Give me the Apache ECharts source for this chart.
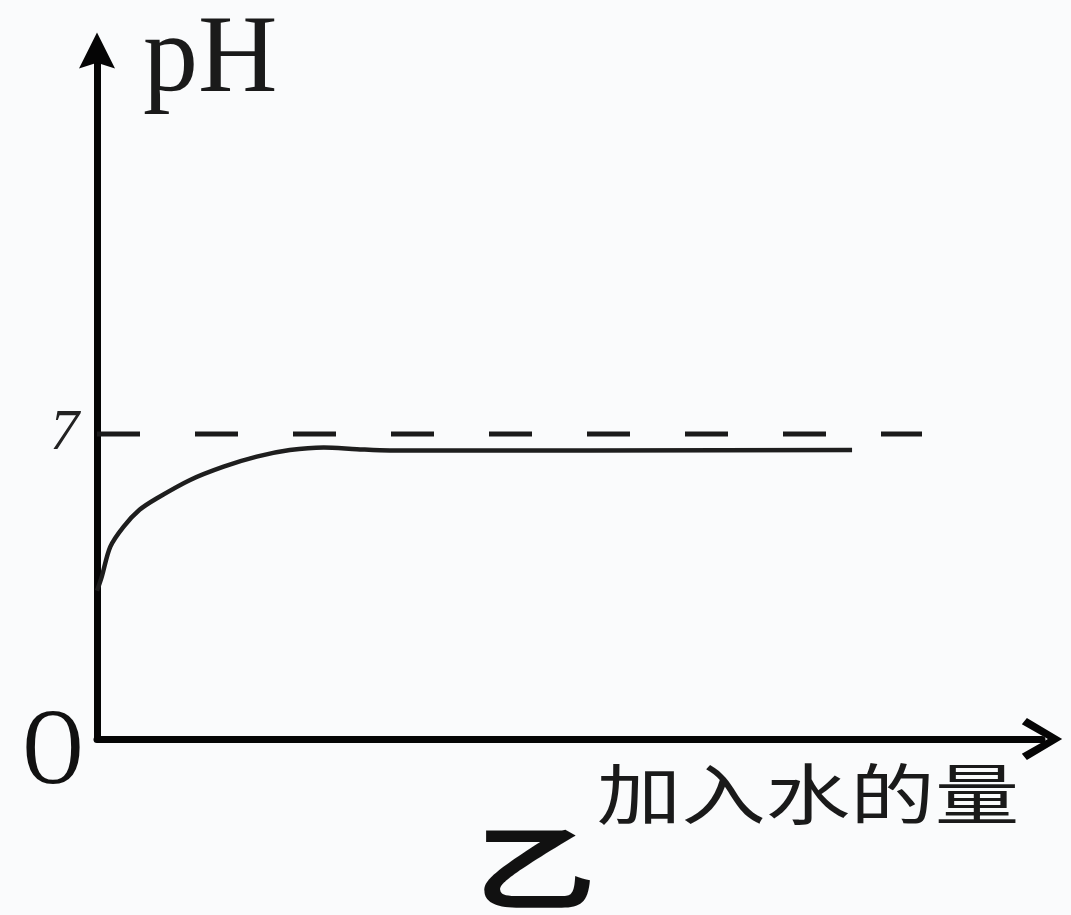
<!DOCTYPE html>
<html>
<head>
<meta charset="utf-8">
<script src="https://cdn.jsdelivr.net/npm/echarts@6/dist/echarts.min.js"></script>
<style>
html,body{margin:0;padding:0;background:#fafbfc;}
#chart{width:1071px;height:915px;}
</style>
</head>
<body>
<div id="chart"></div>
<script>
// ---- data ----
const curveX = [0, 0.5, 1.4, 2.8, 4.5, 6.3, 9.8, 13.4, 16.9, 20.4, 24.0, 27.5, 31.0, 79.9];
const curveY = [3.4, 3.72, 4.41, 4.87, 5.26, 5.52, 5.94, 6.25, 6.48, 6.63, 6.69, 6.65, 6.62, 6.63];
const refX = [0, 87.3];
const refY = [7, 7];
const yTickLabels = ['7'];
const yLabel = 'pH';
const xLabel = '加入水的量';
const originLabel = 'O';
const panelLabel = '乙';

const curveData = curveX.map((x, i) => [x, curveY[i]]);
const refData = refX.map((x, i) => [x, refY[i]]);

const yArrow = 'path://M50,0 L100,100 L50,84 L0,100 Z';
const xArrow = 'path://M50,0 L100,84 L85,96 L50,34 L15,96 L0,84 Z';

const chart = echarts.init(document.getElementById('chart'), null, {renderer: 'canvas'});
chart.setOption({
  backgroundColor: '#fafbfc',
  animation: false,
  grid: {left: 97, right: 29, top: 50.5, bottom: 176, containLabel: false},
  xAxis: {
    type: 'value', min: 0, max: 100,
    axisLine: {show: true, onZero: false, symbol: ['none', xArrow], symbolSize: [42, 52],
      lineStyle: {color: '#050505', width: 7}},
    axisTick: {show: false}, axisLabel: {show: false}, splitLine: {show: false}
  },
  yAxis: {
    type: 'value', min: 0, max: 15.8, interval: 7,
    axisLine: {show: true, onZero: false, symbol: ['none', yArrow], symbolSize: [36, 55],
      lineStyle: {color: '#050505', width: 7}},
    axisTick: {show: false}, splitLine: {show: false},
    axisLabel: {
      show: true, showMinLabel: false, showMaxLabel: false, margin: 18,
      formatter: v => (yTickLabels.indexOf(String(v)) >= 0 ? String(v) : ''),
      fontFamily: 'Liberation Serif', fontStyle: 'italic', fontSize: 58, color: '#222',
      padding: [16, 0, 0, 0]
    }
  },
  series: [
    {
      type: 'line', data: refData, symbol: 'none', silent: true,
      lineStyle: {color: '#1a1a1a', width: 5, type: [43, 55]}
    },
    {
      type: 'line', data: curveData, symbol: 'none', smooth: 0.3, silent: true,
      lineStyle: {color: '#1e1e1e', width: 4.5}
    }
  ],
  graphic: [
    {type: 'text', x: 143, y: 62, silent: true,
      style: {text: yLabel, font: '110px "Liberation Serif"', fill: '#1a1a1a', align: 'left', verticalAlign: 'middle'}},
    {type: 'text', x: 53, y: 755, scaleX: 0.77, silent: true,
      style: {text: originLabel, font: '108px "Liberation Serif"', fill: '#111', align: 'center', verticalAlign: 'middle'}},
    {type: 'text', x: 808, y: 794, scaleX: 1.28, silent: true,
      style: {text: xLabel, font: '66px "Noto Sans CJK SC"', fill: '#1a1a1a', align: 'center', verticalAlign: 'middle'}},
    {type: 'text', x: 535, y: 868, scaleX: 1.3, silent: true,
      style: {text: panelLabel, font: 'bold 93px "Noto Sans CJK SC"', fill: '#111', align: 'center', verticalAlign: 'middle'}}
  ]
});
</script>
</body>
</html>
